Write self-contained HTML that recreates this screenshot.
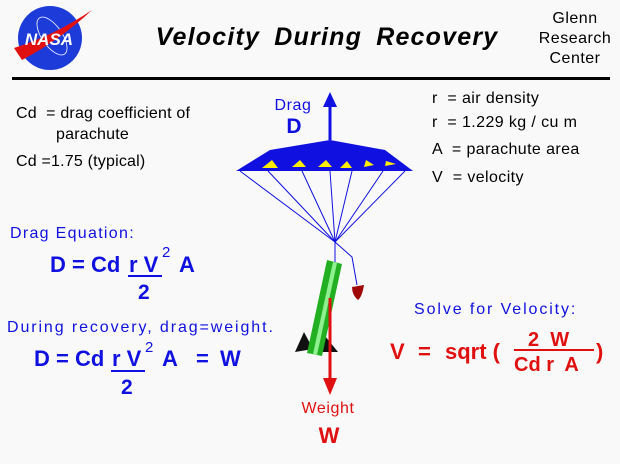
<!DOCTYPE html>
<html><head><meta charset="utf-8"><style>
html,body{margin:0;padding:0;background:#f9f9f9;}
svg{display:block;font-family:"Liberation Sans",sans-serif;}
text{white-space:pre;}
</style></head><body>
<svg width="620" height="464" viewBox="0 0 620 464">
<rect width="620" height="464" fill="#f9f9f9"/>
<g>
<circle cx="50" cy="38" r="32" fill="#1d3bd9"/>
<ellipse cx="52" cy="36" rx="10" ry="22" fill="none" stroke="#fff" stroke-width="0.8" transform="rotate(-35 52 36)"/>
<path d="M14 48 Q55 35 92 10 Q60 40 22 60 Z" fill="#e01010"/>
<text x="49" y="45" font-size="17" font-weight="bold" font-style="italic" fill="#fff" text-anchor="middle">NASA</text>
</g>
<text x="327" y="45" font-size="25" font-weight="bold" font-style="italic" text-anchor="middle" fill="#000" letter-spacing="1.2" word-spacing="6">Velocity During Recovery</text>
<g font-size="16" fill="#000" text-anchor="middle" letter-spacing="0.5">
<text x="575" y="23">Glenn</text><text x="575" y="43">Research</text><text x="575" y="63">Center</text>
</g>
<rect x="12" y="77" width="598" height="3" fill="#000"/>
<g font-size="16" fill="#000" letter-spacing="0.2">
<text x="16" y="118">Cd  = drag coefficient of</text>
<text x="56" y="139">parachute</text>
<text x="16" y="166">Cd =1.75 (typical)</text>
</g>
<g font-size="16" fill="#000" letter-spacing="0.4">
<text x="432" y="103">r  = air density</text>
<text x="432" y="127">r  = 1.229 kg / cu m</text>
<text x="432" y="154">A  = parachute area</text>
<text x="432" y="182">V  = velocity</text>
</g>
<g>
<g stroke="#1010e0" stroke-width="1">
<line x1="240" y1="171" x2="335" y2="242"/><line x1="268" y1="171" x2="335" y2="242"/>
<line x1="302" y1="171" x2="335" y2="242"/><line x1="330" y1="171" x2="335" y2="242"/>
<line x1="352" y1="171" x2="335" y2="242"/><line x1="383" y1="171" x2="335" y2="242"/>
<line x1="405" y1="171" x2="335" y2="242"/>
<line x1="335" y1="242" x2="335" y2="262"/>
<polyline points="335,242 352,257 357,285" fill="none"/>
</g>
<polygon points="236,171 270,150 330,140 385,150 413,171" fill="#1010e0"/>
<g fill="#ffee00">
<polygon points="262,168 272,160 278,168"/><polygon points="292,167 300,160 306,167"/>
<polygon points="318,167 326,160 332,167"/><polygon points="340,168 347,161 352,168"/>
<polygon points="364,167 374,165 366,160"/><polygon points="385,166 396,164 386,161"/>
</g>
</g>
<g>
<line x1="330" y1="140" x2="330" y2="104" stroke="#1010e0" stroke-width="3"/>
<polygon points="323,107 330,92 337,107" fill="#1010e0"/>
<text x="293" y="110" font-size="16" fill="#1010e0" text-anchor="middle" letter-spacing="0.6">Drag</text>
<text x="294" y="133" font-size="21" font-weight="bold" fill="#1010e0" text-anchor="middle">D</text>
</g>
<g>
<polygon points="304,332 295,352 313,349" fill="#111"/>
<polygon points="325,336 338,352 322,352" fill="#111"/>
<polygon points="327,260 342,264 322,356 307,353" fill="#22b022"/>
<polygon points="333,262 337,263 317,355 313,354" fill="#8ef08e"/>
<path d="M352,287 L364,285 Q362,297 358,300 Q352,295 352,287 Z" fill="#a00808"/>
</g>
<g>
<line x1="330" y1="298" x2="330" y2="380" stroke="#e01010" stroke-width="3"/>
<polygon points="323,378 330,395 337,378" fill="#e01010"/>
<text x="328" y="413" font-size="16" fill="#e01010" text-anchor="middle" letter-spacing="0.6">Weight</text>
<text x="329" y="443" font-size="22" font-weight="bold" fill="#e01010" text-anchor="middle">W</text>
</g>
<g fill="#1010e0">
<text x="10" y="238" font-size="16" letter-spacing="1.3">Drag Equation:</text>
<g font-size="22" font-weight="bold">
<text x="50" y="272">D = Cd</text>
<text x="129" y="272">r V</text>
<text x="179" y="272">A</text>
</g>
<text x="162" y="257" font-size="15">2</text>
<rect x="128" y="275" width="34" height="2"/>
<text x="138" y="299" font-size="21" font-weight="bold">2</text>
</g>
<g fill="#1010e0">
<text x="7" y="332" font-size="16" letter-spacing="1.9">During recovery, drag=weight.</text>
<g font-size="22" font-weight="bold">
<text x="34" y="366">D = Cd</text>
<text x="112" y="366">r V</text>
<text x="162" y="366">A</text>
<text x="196" y="366">=</text>
<text x="220" y="366">W</text>
</g>
<text x="145" y="352" font-size="15">2</text>
<rect x="111" y="370" width="34" height="2"/>
<text x="121" y="394" font-size="21" font-weight="bold">2</text>
</g>
<g>
<text x="414" y="314" font-size="16" fill="#1010e0" letter-spacing="1.9">Solve for Velocity:</text>
<g fill="#e01010" font-weight="bold" font-size="22">
<text x="390" y="359">V</text>
<text x="418" y="359">=</text>
<text x="445" y="359">sqrt (</text>
<text x="528" y="346" font-size="20">2  W</text>
<rect x="514" y="349" width="80" height="2"/>
<text x="514" y="371" font-size="20">Cd r  A</text>
<text x="596" y="359">)</text>
</g>
</g>
</svg>
</body></html>
